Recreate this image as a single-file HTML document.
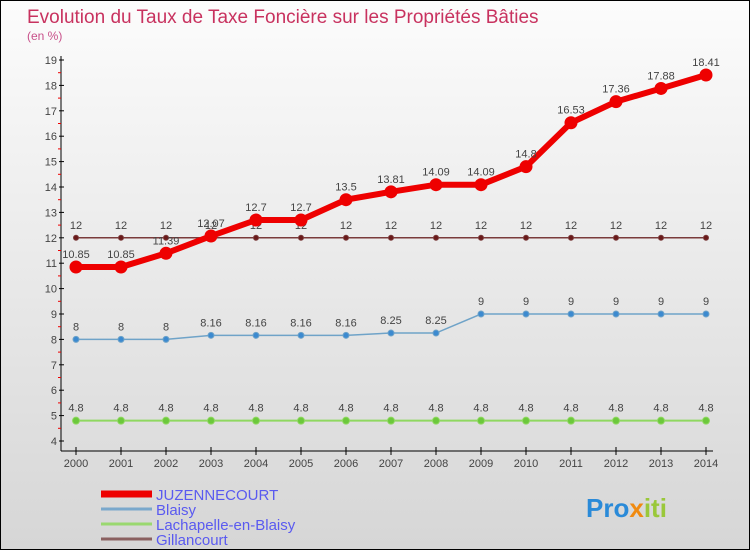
<!DOCTYPE html>
<html><head><meta charset="utf-8"><style>
body{margin:0;width:750px;height:550px;overflow:hidden;font-family:"Liberation Sans",sans-serif}
#c{position:absolute;left:0;top:0;width:748px;height:548px;border:1px solid #000;background:linear-gradient(#fcfcfc,#d6d6d6)}
</style></head><body>
<div id="c">
<svg id="s" width="748" height="548" xmlns="http://www.w3.org/2000/svg" style="position:absolute;left:0;top:0">
<text x="26" y="22" font-size="19" fill="#c8325f">Evolution du Taux de Taxe Foncière sur les Propriétés Bâties</text>
<text x="26" y="39" font-size="12" fill="#c8508a">(en %)</text>
<g id="axes"></g><g id="series"></g><g id="legend"></g>
<text x="585" y="516" font-size="26" font-weight="bold" fill="#2a8ad8">Pro<tspan fill="#f08a10">x</tspan><tspan fill="#9ac83a">iti</tspan></text>
</svg></div>
<script>
const years=[2000,2001,2002,2003,2004,2005,2006,2007,2008,2009,2010,2011,2012,2013,2014];
const juzennecourt=[10.85,10.85,11.39,12.07,12.7,12.7,13.5,13.81,14.09,14.09,14.8,16.53,17.36,17.88,18.41];
const blaisy=[8,8,8,8.16,8.16,8.16,8.16,8.25,8.25,9,9,9,9,9,9];
const lachapelle=[4.8,4.8,4.8,4.8,4.8,4.8,4.8,4.8,4.8,4.8,4.8,4.8,4.8,4.8,4.8];
const gillancourt=[12,12,12,12,12,12,12,12,12,12,12,12,12,12,12];
const yTicks=[4,5,6,7,8,9,10,11,12,13,14,15,16,17,18,19];
const NS="http://www.w3.org/2000/svg";
const X=i=>75+i*45, Y=v=>440-(v-4)*25.4;
function mk(t,a,p){const e=document.createElementNS(NS,t);for(const k in a)e.setAttribute(k,a[k]);p.appendChild(e);return e;}
const ax=document.getElementById('axes');
let l=mk('line',{x1:60,y1:55,x2:60,y2:450,stroke:'#000'},ax);


l=mk('line',{x1:60,y1:450,x2:712,y2:450,stroke:'#000'},ax);


yTicks.forEach(v=>{
 mk('line',{x1:58,y1:Y(v),x2:63,y2:Y(v),stroke:'#000'},ax);
 if(v<19) mk('line',{x1:57,y1:Y(v+0.5),x2:60,y2:Y(v+0.5),stroke:'#e00'},ax);
 const t=mk('text',{x:56,y:Y(v)+4,'font-size':11,fill:'#444','text-anchor':'end'},ax);t.textContent=v;
 
 
});
years.forEach((yr,i)=>{
 mk('line',{x1:X(i),y1:446,x2:X(i),y2:454,stroke:'#000'},ax);
 const t=mk('text',{x:X(i),y:466,'font-size':11,fill:'#444','text-anchor':'middle'},ax);t.textContent=yr;
 
 
});
const sg=document.getElementById('series');
function series(name,vals,color,w,r,dot,lab){
 const g=mk('g',{},sg);
 
 
 mk('polyline',{points:vals.map((v,i)=>X(i)+','+Y(v)).join(' '),fill:'none',stroke:color,'stroke-width':w},g);
 vals.forEach((v,i)=>{
  const c=mk('circle',{cx:X(i),cy:Y(v),r:r,fill:dot,stroke:color,'stroke-width':1},g);
  
  
  const t=mk('text',{x:X(i),y:Y(v)-9,'font-size':11,fill:lab,'text-anchor':'middle'},g);t.textContent=v;
  
  
 });
}
series('lachapelle',lachapelle,'#8fd860',2,3.5,'#6cc83c','#444');
series('blaisy',blaisy,'#6fa3c8',1.5,3,'#3c8ad0','#444');
series('gillancourt',gillancourt,'#7a3b3b',1.5,2.5,'#6a1a1a','#444');
series('juzennecourt',juzennecourt,'#ee0000',6,6,'#ee0000','#444');
const lg=document.getElementById('legend');
[['JUZENNECOURT','#ee0000',7],['Blaisy','#7aa8cc',3],['Lachapelle-en-Blaisy','#9ad870',3],['Gillancourt','#8a6060',3]].forEach((d,i)=>{
 const y=493+i*15;
 const g=mk('g',{},lg);
 
 
 mk('line',{x1:100,y1:y,x2:151,y2:y,stroke:d[1],'stroke-width':d[2]},g);
 const t=mk('text',{x:155,y:y+6,'font-size':15,fill:'#5a5af0'},g);t.textContent=d[0];
});
</script>
</body></html>
